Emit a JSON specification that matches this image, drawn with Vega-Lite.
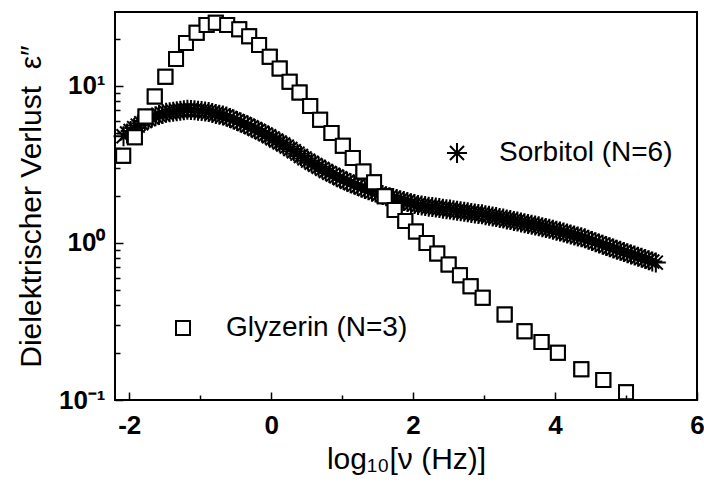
{
  "$schema": "https://vega.github.io/schema/vega-lite/v6.json",
  "width": 582,
  "height": 388,
  "autosize": {"type": "none"},
  "padding": {"left": 115, "top": 12, "right": 7, "bottom": 82},
  "background": "white",
  "config": {
    "font": "Liberation Sans",
    "view": {"stroke": "black", "strokeWidth": 2},
    "legend": {"orient": "none", "padding": 0, "labelFont": "Liberation Sans", "labelFontSize": 28, "labelColor": "black", "labelLimit": 400, "title": null}
  },
  "datasets": {
    "sorbitol": [
      {"series": "Sorbitol (N=6)", "log_nu": -2.08, "eps": 4.78},
      {"series": "Sorbitol (N=6)", "log_nu": -2.03, "eps": 4.97},
      {"series": "Sorbitol (N=6)", "log_nu": -1.98, "eps": 5.16},
      {"series": "Sorbitol (N=6)", "log_nu": -1.93, "eps": 5.38},
      {"series": "Sorbitol (N=6)", "log_nu": -1.88, "eps": 5.58},
      {"series": "Sorbitol (N=6)", "log_nu": -1.83, "eps": 5.77},
      {"series": "Sorbitol (N=6)", "log_nu": -1.78, "eps": 5.96},
      {"series": "Sorbitol (N=6)", "log_nu": -1.73, "eps": 6.14},
      {"series": "Sorbitol (N=6)", "log_nu": -1.68, "eps": 6.29},
      {"series": "Sorbitol (N=6)", "log_nu": -1.63, "eps": 6.40},
      {"series": "Sorbitol (N=6)", "log_nu": -1.58, "eps": 6.51},
      {"series": "Sorbitol (N=6)", "log_nu": -1.53, "eps": 6.62},
      {"series": "Sorbitol (N=6)", "log_nu": -1.48, "eps": 6.74},
      {"series": "Sorbitol (N=6)", "log_nu": -1.43, "eps": 6.79},
      {"series": "Sorbitol (N=6)", "log_nu": -1.38, "eps": 6.84},
      {"series": "Sorbitol (N=6)", "log_nu": -1.33, "eps": 6.89},
      {"series": "Sorbitol (N=6)", "log_nu": -1.28, "eps": 6.94},
      {"series": "Sorbitol (N=6)", "log_nu": -1.23, "eps": 6.99},
      {"series": "Sorbitol (N=6)", "log_nu": -1.18, "eps": 7.03},
      {"series": "Sorbitol (N=6)", "log_nu": -1.13, "eps": 7.01},
      {"series": "Sorbitol (N=6)", "log_nu": -1.08, "eps": 6.98},
      {"series": "Sorbitol (N=6)", "log_nu": -1.03, "eps": 6.95},
      {"series": "Sorbitol (N=6)", "log_nu": -0.98, "eps": 6.90},
      {"series": "Sorbitol (N=6)", "log_nu": -0.93, "eps": 6.87},
      {"series": "Sorbitol (N=6)", "log_nu": -0.88, "eps": 6.80},
      {"series": "Sorbitol (N=6)", "log_nu": -0.83, "eps": 6.71},
      {"series": "Sorbitol (N=6)", "log_nu": -0.78, "eps": 6.62},
      {"series": "Sorbitol (N=6)", "log_nu": -0.73, "eps": 6.54},
      {"series": "Sorbitol (N=6)", "log_nu": -0.68, "eps": 6.46},
      {"series": "Sorbitol (N=6)", "log_nu": -0.63, "eps": 6.37},
      {"series": "Sorbitol (N=6)", "log_nu": -0.58, "eps": 6.24},
      {"series": "Sorbitol (N=6)", "log_nu": -0.53, "eps": 6.10},
      {"series": "Sorbitol (N=6)", "log_nu": -0.48, "eps": 5.97},
      {"series": "Sorbitol (N=6)", "log_nu": -0.43, "eps": 5.85},
      {"series": "Sorbitol (N=6)", "log_nu": -0.38, "eps": 5.72},
      {"series": "Sorbitol (N=6)", "log_nu": -0.33, "eps": 5.59},
      {"series": "Sorbitol (N=6)", "log_nu": -0.28, "eps": 5.45},
      {"series": "Sorbitol (N=6)", "log_nu": -0.23, "eps": 5.31},
      {"series": "Sorbitol (N=6)", "log_nu": -0.18, "eps": 5.18},
      {"series": "Sorbitol (N=6)", "log_nu": -0.13, "eps": 5.04},
      {"series": "Sorbitol (N=6)", "log_nu": -0.08, "eps": 4.91},
      {"series": "Sorbitol (N=6)", "log_nu": -0.03, "eps": 4.78},
      {"series": "Sorbitol (N=6)", "log_nu": 0.02, "eps": 4.63},
      {"series": "Sorbitol (N=6)", "log_nu": 0.07, "eps": 4.49},
      {"series": "Sorbitol (N=6)", "log_nu": 0.12, "eps": 4.36},
      {"series": "Sorbitol (N=6)", "log_nu": 0.17, "eps": 4.23},
      {"series": "Sorbitol (N=6)", "log_nu": 0.22, "eps": 4.10},
      {"series": "Sorbitol (N=6)", "log_nu": 0.27, "eps": 3.96},
      {"series": "Sorbitol (N=6)", "log_nu": 0.32, "eps": 3.83},
      {"series": "Sorbitol (N=6)", "log_nu": 0.37, "eps": 3.70},
      {"series": "Sorbitol (N=6)", "log_nu": 0.42, "eps": 3.57},
      {"series": "Sorbitol (N=6)", "log_nu": 0.47, "eps": 3.45},
      {"series": "Sorbitol (N=6)", "log_nu": 0.52, "eps": 3.34},
      {"series": "Sorbitol (N=6)", "log_nu": 0.57, "eps": 3.24},
      {"series": "Sorbitol (N=6)", "log_nu": 0.62, "eps": 3.14},
      {"series": "Sorbitol (N=6)", "log_nu": 0.67, "eps": 3.05},
      {"series": "Sorbitol (N=6)", "log_nu": 0.72, "eps": 2.96},
      {"series": "Sorbitol (N=6)", "log_nu": 0.77, "eps": 2.87},
      {"series": "Sorbitol (N=6)", "log_nu": 0.82, "eps": 2.79},
      {"series": "Sorbitol (N=6)", "log_nu": 0.87, "eps": 2.72},
      {"series": "Sorbitol (N=6)", "log_nu": 0.92, "eps": 2.65},
      {"series": "Sorbitol (N=6)", "log_nu": 0.97, "eps": 2.58},
      {"series": "Sorbitol (N=6)", "log_nu": 1.02, "eps": 2.51},
      {"series": "Sorbitol (N=6)", "log_nu": 1.07, "eps": 2.45},
      {"series": "Sorbitol (N=6)", "log_nu": 1.12, "eps": 2.40},
      {"series": "Sorbitol (N=6)", "log_nu": 1.17, "eps": 2.35},
      {"series": "Sorbitol (N=6)", "log_nu": 1.22, "eps": 2.30},
      {"series": "Sorbitol (N=6)", "log_nu": 1.27, "eps": 2.25},
      {"series": "Sorbitol (N=6)", "log_nu": 1.32, "eps": 2.20},
      {"series": "Sorbitol (N=6)", "log_nu": 1.37, "eps": 2.16},
      {"series": "Sorbitol (N=6)", "log_nu": 1.42, "eps": 2.12},
      {"series": "Sorbitol (N=6)", "log_nu": 1.47, "eps": 2.09},
      {"series": "Sorbitol (N=6)", "log_nu": 1.52, "eps": 2.05},
      {"series": "Sorbitol (N=6)", "log_nu": 1.57, "eps": 2.02},
      {"series": "Sorbitol (N=6)", "log_nu": 1.62, "eps": 1.98},
      {"series": "Sorbitol (N=6)", "log_nu": 1.67, "eps": 1.95},
      {"series": "Sorbitol (N=6)", "log_nu": 1.72, "eps": 1.93},
      {"series": "Sorbitol (N=6)", "log_nu": 1.77, "eps": 1.90},
      {"series": "Sorbitol (N=6)", "log_nu": 1.82, "eps": 1.87},
      {"series": "Sorbitol (N=6)", "log_nu": 1.87, "eps": 1.85},
      {"series": "Sorbitol (N=6)", "log_nu": 1.92, "eps": 1.82},
      {"series": "Sorbitol (N=6)", "log_nu": 1.97, "eps": 1.79},
      {"series": "Sorbitol (N=6)", "log_nu": 2.02, "eps": 1.77},
      {"series": "Sorbitol (N=6)", "log_nu": 2.07, "eps": 1.745},
      {"series": "Sorbitol (N=6)", "log_nu": 2.12, "eps": 1.73},
      {"series": "Sorbitol (N=6)", "log_nu": 2.17, "eps": 1.72},
      {"series": "Sorbitol (N=6)", "log_nu": 2.22, "eps": 1.70},
      {"series": "Sorbitol (N=6)", "log_nu": 2.27, "eps": 1.69},
      {"series": "Sorbitol (N=6)", "log_nu": 2.32, "eps": 1.68},
      {"series": "Sorbitol (N=6)", "log_nu": 2.37, "eps": 1.665},
      {"series": "Sorbitol (N=6)", "log_nu": 2.42, "eps": 1.65},
      {"series": "Sorbitol (N=6)", "log_nu": 2.47, "eps": 1.64},
      {"series": "Sorbitol (N=6)", "log_nu": 2.52, "eps": 1.63},
      {"series": "Sorbitol (N=6)", "log_nu": 2.57, "eps": 1.615},
      {"series": "Sorbitol (N=6)", "log_nu": 2.62, "eps": 1.60},
      {"series": "Sorbitol (N=6)", "log_nu": 2.67, "eps": 1.59},
      {"series": "Sorbitol (N=6)", "log_nu": 2.72, "eps": 1.58},
      {"series": "Sorbitol (N=6)", "log_nu": 2.77, "eps": 1.565},
      {"series": "Sorbitol (N=6)", "log_nu": 2.82, "eps": 1.55},
      {"series": "Sorbitol (N=6)", "log_nu": 2.87, "eps": 1.54},
      {"series": "Sorbitol (N=6)", "log_nu": 2.92, "eps": 1.53},
      {"series": "Sorbitol (N=6)", "log_nu": 2.97, "eps": 1.52},
      {"series": "Sorbitol (N=6)", "log_nu": 3.02, "eps": 1.50},
      {"series": "Sorbitol (N=6)", "log_nu": 3.07, "eps": 1.49},
      {"series": "Sorbitol (N=6)", "log_nu": 3.12, "eps": 1.47},
      {"series": "Sorbitol (N=6)", "log_nu": 3.17, "eps": 1.46},
      {"series": "Sorbitol (N=6)", "log_nu": 3.22, "eps": 1.44},
      {"series": "Sorbitol (N=6)", "log_nu": 3.27, "eps": 1.43},
      {"series": "Sorbitol (N=6)", "log_nu": 3.32, "eps": 1.41},
      {"series": "Sorbitol (N=6)", "log_nu": 3.37, "eps": 1.40},
      {"series": "Sorbitol (N=6)", "log_nu": 3.42, "eps": 1.38},
      {"series": "Sorbitol (N=6)", "log_nu": 3.47, "eps": 1.37},
      {"series": "Sorbitol (N=6)", "log_nu": 3.52, "eps": 1.35},
      {"series": "Sorbitol (N=6)", "log_nu": 3.57, "eps": 1.336},
      {"series": "Sorbitol (N=6)", "log_nu": 3.62, "eps": 1.32},
      {"series": "Sorbitol (N=6)", "log_nu": 3.67, "eps": 1.305},
      {"series": "Sorbitol (N=6)", "log_nu": 3.72, "eps": 1.29},
      {"series": "Sorbitol (N=6)", "log_nu": 3.77, "eps": 1.275},
      {"series": "Sorbitol (N=6)", "log_nu": 3.82, "eps": 1.26},
      {"series": "Sorbitol (N=6)", "log_nu": 3.87, "eps": 1.245},
      {"series": "Sorbitol (N=6)", "log_nu": 3.92, "eps": 1.23},
      {"series": "Sorbitol (N=6)", "log_nu": 3.97, "eps": 1.214},
      {"series": "Sorbitol (N=6)", "log_nu": 4.02, "eps": 1.197},
      {"series": "Sorbitol (N=6)", "log_nu": 4.07, "eps": 1.18},
      {"series": "Sorbitol (N=6)", "log_nu": 4.12, "eps": 1.164},
      {"series": "Sorbitol (N=6)", "log_nu": 4.17, "eps": 1.148},
      {"series": "Sorbitol (N=6)", "log_nu": 4.22, "eps": 1.132},
      {"series": "Sorbitol (N=6)", "log_nu": 4.27, "eps": 1.116},
      {"series": "Sorbitol (N=6)", "log_nu": 4.32, "eps": 1.10},
      {"series": "Sorbitol (N=6)", "log_nu": 4.37, "eps": 1.085},
      {"series": "Sorbitol (N=6)", "log_nu": 4.42, "eps": 1.069},
      {"series": "Sorbitol (N=6)", "log_nu": 4.47, "eps": 1.049},
      {"series": "Sorbitol (N=6)", "log_nu": 4.52, "eps": 1.030},
      {"series": "Sorbitol (N=6)", "log_nu": 4.57, "eps": 1.011},
      {"series": "Sorbitol (N=6)", "log_nu": 4.62, "eps": 0.993},
      {"series": "Sorbitol (N=6)", "log_nu": 4.67, "eps": 0.975},
      {"series": "Sorbitol (N=6)", "log_nu": 4.72, "eps": 0.957},
      {"series": "Sorbitol (N=6)", "log_nu": 4.77, "eps": 0.939},
      {"series": "Sorbitol (N=6)", "log_nu": 4.82, "eps": 0.922},
      {"series": "Sorbitol (N=6)", "log_nu": 4.87, "eps": 0.906},
      {"series": "Sorbitol (N=6)", "log_nu": 4.92, "eps": 0.890},
      {"series": "Sorbitol (N=6)", "log_nu": 4.97, "eps": 0.875},
      {"series": "Sorbitol (N=6)", "log_nu": 5.02, "eps": 0.860},
      {"series": "Sorbitol (N=6)", "log_nu": 5.07, "eps": 0.845},
      {"series": "Sorbitol (N=6)", "log_nu": 5.12, "eps": 0.831},
      {"series": "Sorbitol (N=6)", "log_nu": 5.17, "eps": 0.817},
      {"series": "Sorbitol (N=6)", "log_nu": 5.22, "eps": 0.803},
      {"series": "Sorbitol (N=6)", "log_nu": 5.27, "eps": 0.789},
      {"series": "Sorbitol (N=6)", "log_nu": 5.32, "eps": 0.775},
      {"series": "Sorbitol (N=6)", "log_nu": 5.37, "eps": 0.762},
      {"series": "Sorbitol (N=6)", "log_nu": 5.42, "eps": 0.749}
    ],
    "glyzerin": [
      {"series": "Glyzerin (N=3)", "log_nu": -2.085, "eps": 3.59},
      {"series": "Glyzerin (N=3)", "log_nu": -1.92, "eps": 4.71},
      {"series": "Glyzerin (N=3)", "log_nu": -1.77, "eps": 6.37},
      {"series": "Glyzerin (N=3)", "log_nu": -1.64, "eps": 8.54},
      {"series": "Glyzerin (N=3)", "log_nu": -1.49, "eps": 11.4},
      {"series": "Glyzerin (N=3)", "log_nu": -1.34, "eps": 14.8},
      {"series": "Glyzerin (N=3)", "log_nu": -1.20, "eps": 18.7},
      {"series": "Glyzerin (N=3)", "log_nu": -1.05, "eps": 21.8},
      {"series": "Glyzerin (N=3)", "log_nu": -0.91, "eps": 24.4},
      {"series": "Glyzerin (N=3)", "log_nu": -0.78, "eps": 25.2},
      {"series": "Glyzerin (N=3)", "log_nu": -0.62, "eps": 24.4},
      {"series": "Glyzerin (N=3)", "log_nu": -0.45, "eps": 22.9},
      {"series": "Glyzerin (N=3)", "log_nu": -0.31, "eps": 20.7},
      {"series": "Glyzerin (N=3)", "log_nu": -0.17, "eps": 18.2},
      {"series": "Glyzerin (N=3)", "log_nu": -0.02, "eps": 15.3},
      {"series": "Glyzerin (N=3)", "log_nu": 0.12, "eps": 12.9},
      {"series": "Glyzerin (N=3)", "log_nu": 0.26, "eps": 10.6},
      {"series": "Glyzerin (N=3)", "log_nu": 0.40, "eps": 9.05},
      {"series": "Glyzerin (N=3)", "log_nu": 0.55, "eps": 7.45},
      {"series": "Glyzerin (N=3)", "log_nu": 0.69, "eps": 6.07},
      {"series": "Glyzerin (N=3)", "log_nu": 0.85, "eps": 5.00},
      {"series": "Glyzerin (N=3)", "log_nu": 1.01, "eps": 4.15},
      {"series": "Glyzerin (N=3)", "log_nu": 1.15, "eps": 3.47},
      {"series": "Glyzerin (N=3)", "log_nu": 1.30, "eps": 2.85},
      {"series": "Glyzerin (N=3)", "log_nu": 1.45, "eps": 2.43},
      {"series": "Glyzerin (N=3)", "log_nu": 1.60, "eps": 1.98},
      {"series": "Glyzerin (N=3)", "log_nu": 1.74, "eps": 1.62},
      {"series": "Glyzerin (N=3)", "log_nu": 1.89, "eps": 1.38},
      {"series": "Glyzerin (N=3)", "log_nu": 2.04, "eps": 1.18},
      {"series": "Glyzerin (N=3)", "log_nu": 2.19, "eps": 1.0},
      {"series": "Glyzerin (N=3)", "log_nu": 2.34, "eps": 0.855},
      {"series": "Glyzerin (N=3)", "log_nu": 2.50, "eps": 0.728},
      {"series": "Glyzerin (N=3)", "log_nu": 2.66, "eps": 0.622},
      {"series": "Glyzerin (N=3)", "log_nu": 2.81, "eps": 0.53},
      {"series": "Glyzerin (N=3)", "log_nu": 2.98, "eps": 0.447},
      {"series": "Glyzerin (N=3)", "log_nu": 3.29, "eps": 0.35},
      {"series": "Glyzerin (N=3)", "log_nu": 3.57, "eps": 0.274},
      {"series": "Glyzerin (N=3)", "log_nu": 3.81, "eps": 0.234},
      {"series": "Glyzerin (N=3)", "log_nu": 4.04, "eps": 0.2},
      {"series": "Glyzerin (N=3)", "log_nu": 4.37, "eps": 0.157},
      {"series": "Glyzerin (N=3)", "log_nu": 4.68, "eps": 0.134},
      {"series": "Glyzerin (N=3)", "log_nu": 5.0, "eps": 0.112}
    ]
  },
  "encoding": {
    "x": {
      "field": "log_nu", "type": "quantitative",
      "scale": {"domain": [-2.2, 6], "nice": false, "zero": false},
      "axis": {
        "orient": "bottom", "values": [-2, -1, 0, 1, 2, 3, 4, 5, 6],
        "labelExpr": "datum.value % 2 === 0 ? '' + datum.value : ''",
        "tickSize": {"condition": {"test": "datum.value % 2 === 0", "value": -8}, "value": -5},
        "tickColor": "black", "tickWidth": 1.5, "domain": false, "grid": false, "zindex": 1,
        "labelFont": "Liberation Sans", "labelFontSize": 26, "labelFontWeight": "bold", "labelColor": "black", "labelPadding": 20, "labelFlush": false,
        "title": "log₁₀[ν (Hz)]", "titleFont": "Liberation Sans", "titleFontSize": 30, "titleFontWeight": "normal", "titleColor": "black", "titlePadding": 6
      }
    },
    "y": {
      "field": "eps", "type": "quantitative",
      "scale": {"type": "log", "domain": [0.1, 29.5], "nice": false},
      "axis": {
        "orient": "left", "values": [0.1, 0.2, 0.3, 0.4, 0.5, 0.6, 0.7, 0.8, 0.9, 1, 2, 3, 4, 5, 6, 7, 8, 9, 10, 20],
        "labelExpr": "datum.value === 10 ? '10¹' : datum.value === 1 ? '10⁰' : datum.value === 0.1 ? '10⁻¹' : ''",
        "tickSize": {"condition": {"test": "datum.value === 0.1 || datum.value === 1 || datum.value === 10", "value": -8}, "value": -5},
        "tickColor": "black", "tickWidth": 1.5, "domain": false, "grid": false, "zindex": 1,
        "labelFont": "Liberation Sans", "labelFontSize": 26, "labelFontWeight": "bold", "labelColor": "black", "labelPadding": 18, "labelFlush": false,
        "title": "Dielektrischer Verlust\u00a0\u00a0ε″", "titleFont": "Liberation Sans", "titleFontSize": 30, "titleFontWeight": "normal", "titleColor": "black", "titlePadding": 12
      }
    }
  },
  "layer": [
    {
      "data": {"name": "sorbitol"},
      "mark": {"type": "point", "filled": false, "stroke": "black", "strokeWidth": 2, "size": 400, "opacity": 1},
      "encoding": {
        "shape": {
          "field": "series", "type": "nominal",
          "scale": {"range": ["M-1,0L1,0M0,-1L0,1M-0.7,-0.7L0.7,0.7M-0.7,0.7L0.7,-0.7"]},
          "legend": {"legendX": 328, "legendY": 127, "symbolSize": 400, "symbolStrokeWidth": 2, "symbolStrokeColor": "black", "labelOffset": 28}
        }
      }
    },
    {
      "data": {"name": "glyzerin"},
      "mark": {"type": "point", "filled": false, "stroke": "black", "strokeWidth": 2, "size": 196, "opacity": 1},
      "encoding": {
        "shape": {
          "field": "series", "type": "nominal",
          "scale": {"range": ["square"]},
          "legend": {"legendX": 54, "legendY": 302, "symbolSize": 196, "symbolStrokeWidth": 2, "symbolStrokeColor": "black", "labelOffset": 29}
        }
      }
    },
    {
      "data": {"name": "glyzerin"},
      "mark": {"type": "point", "shape": "square", "filled": true, "fill": "white", "stroke": "black", "strokeWidth": 2, "size": 196, "opacity": 1}
    }
  ],
  "resolve": {
    "scale": {"shape": "independent"},
    "legend": {"shape": "independent"}
  }
}
